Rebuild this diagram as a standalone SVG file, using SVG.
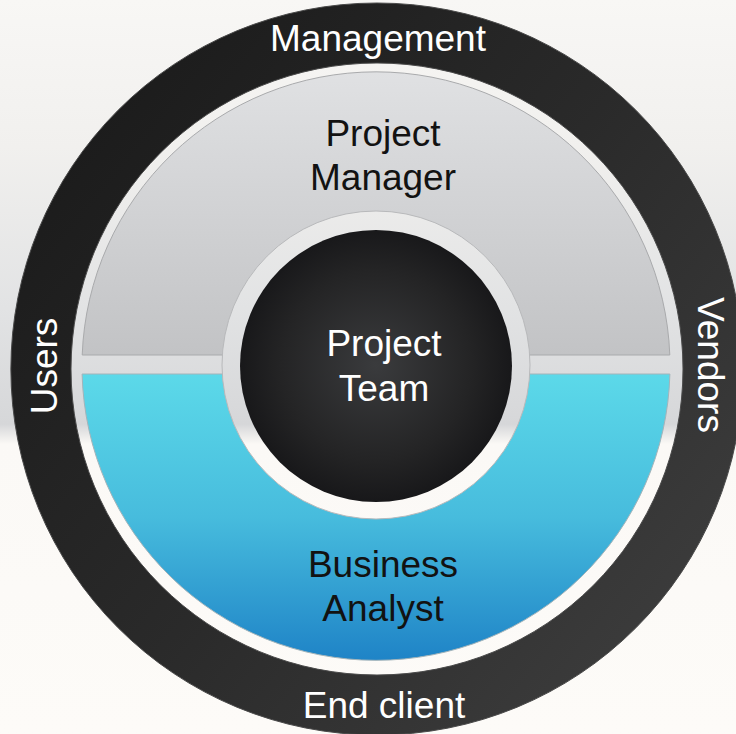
<svg xmlns="http://www.w3.org/2000/svg" width="736" height="734" viewBox="0 0 736 734">
  <defs>
    <linearGradient id="bg" gradientUnits="userSpaceOnUse" x1="0" y1="0" x2="0" y2="734">
      <stop offset="0" stop-color="#f8f7f5"/>
      <stop offset="0.2" stop-color="#f1f0ee"/>
      <stop offset="0.42" stop-color="#e2e3e4"/>
      <stop offset="0.578" stop-color="#d6d7d9"/>
      <stop offset="0.605" stop-color="#fbf9f6"/>
      <stop offset="1" stop-color="#fdfbf8"/>
    </linearGradient>
    <linearGradient id="ringGrad" gradientUnits="userSpaceOnUse" x1="60" y1="120" x2="700" y2="640">
      <stop offset="0" stop-color="#1b1b1b"/>
      <stop offset="0.5" stop-color="#2a2a2a"/>
      <stop offset="1" stop-color="#3d3d3d"/>
    </linearGradient>
    <linearGradient id="greyGrad" gradientUnits="userSpaceOnUse" x1="0" y1="71" x2="0" y2="355">
      <stop offset="0" stop-color="#e0e1e3"/>
      <stop offset="1" stop-color="#c2c3c5"/>
    </linearGradient>
    <linearGradient id="blueGrad" gradientUnits="userSpaceOnUse" x1="0" y1="374" x2="0" y2="659">
      <stop offset="0" stop-color="#5cd9e9"/>
      <stop offset="0.5" stop-color="#47bcdd"/>
      <stop offset="1" stop-color="#1f84c7"/>
    </linearGradient>
    <radialGradient id="coreGrad" cx="376" cy="365" r="136" gradientUnits="userSpaceOnUse">
      <stop offset="0" stop-color="#3a3b3d"/>
      <stop offset="0.7" stop-color="#242425"/>
      <stop offset="1" stop-color="#18181a"/>
    </radialGradient>
  </defs>
  <style>
    .lbl { font-family: "Liberation Sans", Arial, sans-serif; font-size: 37px; text-anchor: middle; }
    .white { fill: #ffffff; }
    .black { fill: #121212; }
  </style>

  <rect x="0" y="0" width="736" height="734" fill="url(#bg)"/>

  <g id="outer-ring">
    <path d="M 377 3 A 366 366 0 1 1 377 735 A 366 366 0 1 1 377 3 Z M 377 63 A 306 306 0 1 0 377 675 A 306 306 0 1 0 377 63 Z" fill="url(#ringGrad)" fill-rule="evenodd" stroke="#4a4a4a" stroke-width="1"/>
    <text class="lbl white" x="378" y="51">Management</text>
    <text class="lbl white" x="384" y="718">End client</text>
    <text class="lbl white" transform="translate(57 366) rotate(-90)" x="0" y="0">Users</text>
    <text class="lbl white" transform="translate(698 365) rotate(90)" x="0" y="0">Vendors</text>
  </g>

  <g id="project-manager">
    <path d="M 82.2 355 A 294 294 0 0 1 669.8 355 Z" fill="url(#greyGrad)" stroke="#a9aaac" stroke-width="1"/>
    <text class="lbl black" x="383" y="146">Project</text>
    <text class="lbl black" x="383" y="190">Manager</text>
  </g>

  <g id="business-analyst">
    <path d="M 82.1 374 A 294 294 0 0 0 669.9 374 Z" fill="url(#blueGrad)" stroke="#a3b4ba" stroke-width="1"/>
    <text class="lbl black" x="383" y="577">Business</text>
    <text class="lbl black" x="383" y="621">Analyst</text>
  </g>

  <g id="project-team">
    <circle cx="376" cy="365" r="154" fill="url(#bg)" stroke="#b8b9bb" stroke-width="1"/>
    <circle cx="376" cy="366" r="136" fill="url(#coreGrad)"/>
    <text class="lbl white" x="384" y="356">Project</text>
    <text class="lbl white" x="384" y="401">Team</text>
  </g>

  <g id="connectors"></g>
</svg>
